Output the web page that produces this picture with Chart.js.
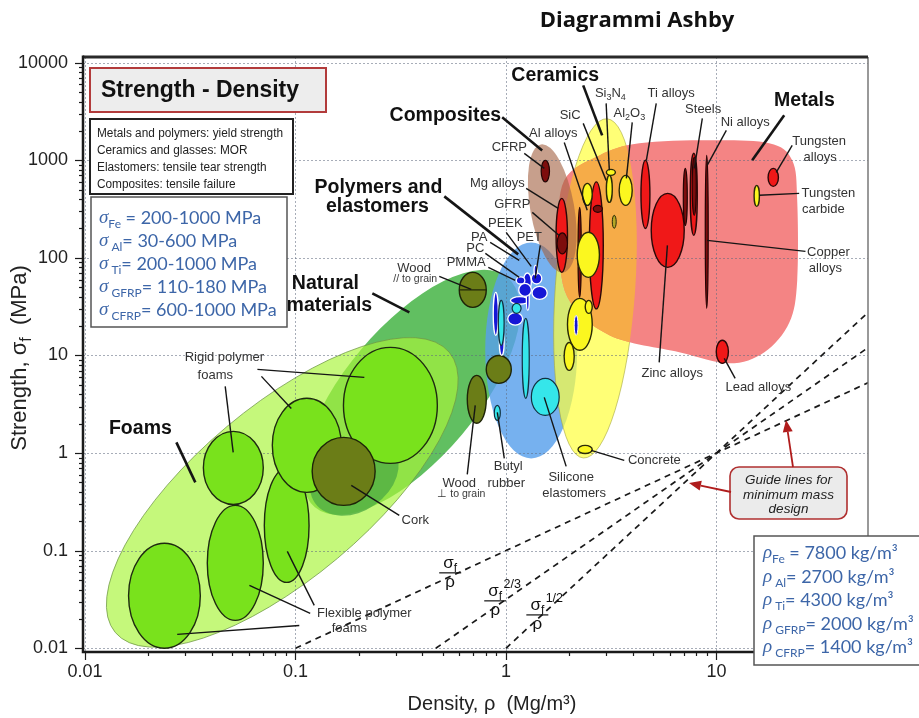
<!DOCTYPE html>
<html>
<head>
<meta charset="utf-8">
<title>Diagrammi Ashby</title>
<script src="https://cdn.jsdelivr.net/npm/chart.js@4.4.1/dist/chart.umd.min.js"></script>
<style>
  html, body { margin: 0; padding: 0; background: #ffffff; }
  canvas { display: block; }
</style>
</head>
<body>
<canvas id="ashby" width="919" height="718"></canvas>
<script>
const SANS = "'Liberation Sans', Arial, Helvetica, sans-serif";
const SOFT = "Lato, 'Open Sans', 'Liberation Sans', sans-serif";
const SERIF = "'Liberation Serif', 'DejaVu Serif', serif";

// ---------- axes ----------
const X_TICKS = [0.01, 0.1, 1, 10];
const X_TICK_TEXT = ['0.01', '0.1', '1', '10'];
const Y_TICKS = [0.01, 0.1, 1, 10, 100, 1000, 10000];
const Y_TICK_TEXT = ['0.01', '0.1', '1', '10', '100', '1000', '10000'];
const X_RANGE = [0.00978, 52.5];
const Y_RANGE = [0.00916, 11430];

// ---------- material property ranges: density [lo, hi] (Mg/m3), strength [lo, hi] (MPa) ----------
// foams (flexible x3, rigid x3)
const foamDensity  = [[0.0161, 0.0353], [0.0381, 0.0703], [0.0711, 0.116], [0.0365, 0.0703], [0.0776, 0.165], [0.169, 0.472]];
const foamStrength = [[0.0100, 0.119], [0.0193, 0.291], [0.0473, 0.697], [0.298, 1.67], [0.396, 3.64], [0.784, 12.1]];

// natural materials: cork, wood // grain, wood ⊥ grain, leather
const naturalDensity  = [[0.120, 0.239], [0.600, 0.806], [0.655, 0.806], [0.806, 1.06]];
const naturalStrength = [[0.291, 1.45], [31.1, 71.0], [2.02, 6.25], [5.18, 10.0]];

// polymers: PE, PP, PET, PEEK, PMMA, PA, PC ...
const polymerDensity  = [[0.87, 0.92], [0.93, 0.98], [1.33, 1.57], [1.21, 1.32], [1.05, 1.29], [1.12, 1.23], [1.02, 1.20], [1.25, 1.29], [1.32, 1.48], [1.36, 1.41], [1.15, 1.32]];
const polymerStrength = [[16.1, 44.3], [10.0, 18.1], [37.5, 51.0], [46.5, 70.0], [33.5, 40.0], [54.0, 64.0], [20.5, 27.5], [29.0, 48.7], [54.0, 70.0], [66.2, 83.8], [40.3, 54.8]];

// elastomers: butyl rubber, silicone, others
const elastomerDensity  = [[0.88, 0.94], [1.32, 1.79], [1.195, 1.29], [0.92, 0.98], [1.07, 1.18]];
const elastomerStrength = [[2.16, 3.08], [2.43, 5.83], [3.64, 24.0], [12.7, 36.7], [27.0, 34.2]];

// alloys: Mg, Al, Ti, Zinc, steels, tungsten, lead
const alloyDensity  = [[1.73, 1.96], [2.49, 2.90], [4.38, 4.83], [4.90, 7.03], [7.51, 8.11], [17.6, 19.7], [9.98, 11.4]];
const alloyStrength = [[71, 407], [30, 600], [200, 1000], [80, 458], [170, 1180], [540, 826], [8.3, 14.3]];

// composites and high-strength grades: CFRP, GFRP, Al (high), steel, steel (high), Ni/Cu, zirconia
const darkDensity  = [[1.47, 1.61], [1.75, 1.96], [2.60, 2.87], [6.96, 7.27], [7.67, 8.02], [8.85, 9.14], [2.20, 2.28]];
const darkStrength = [[600, 1000], [110, 180], [293, 345], [215, 826], [273, 1071], [30.4, 1122], [39.4, 329]];

// technical ceramics, concrete, tungsten carbide
const ceramicDensity  = [[2.18, 2.78], [2.31, 2.57], [3.00, 3.20], [3.00, 3.31], [3.45, 3.98], [1.96, 2.57], [2.38, 2.57], [1.89, 2.11], [2.20, 2.57], [15.1, 16.0]];
const ceramicStrength = [[63.1, 183], [345, 580], [370, 700], [700, 807], [345, 700], [11.3, 38.5], [27.0, 36.7], [7.04, 13.6], [0.99, 1.20], [337, 553]];

const boronDensity  = [[3.20, 3.34]];
const boronStrength = [[201, 273]];
const glassDensity  = [[2.11, 2.20]];
const glassStrength = [[16.1, 25.8]];

// class envelopes: natural, foams, cork region, polymers+elastomers, ceramics, composites
const envelopeDensity  = [[0.0688, 1.83], [0.00797, 0.9395], [0.1125, 0.3216], [0.797, 2.18], [1.715, 4.11], [1.305, 2.11]];
const envelopeStrength = [[0.883, 19.9], [0.0520, 3.01], [0.2527, 1.382], [0.882, 144], [0.882, 2688], [69.3, 1489]];
const envelopeTilt     = [-50, -40, -35, 0, 4, -10];

// metals envelope outline
const metalEnvelopeDensity  = [1.89, 2.78, 4.30, 9.24, 17.8, 22.9, 24.2, 24.2, 22.2, 16.9, 11.5, 6.66, 3.10, 1.96, 1.79];
const metalEnvelopeStrength = [622, 1122, 1490, 1599, 1490, 998, 388, 58.8, 21.8, 10.8, 8.3, 10.8, 16.1, 39.4, 170];

// minimum-mass guide lines, all through (10, 1): sigma/rho, sigma^(2/3)/rho, sigma^(1/2)/rho
const guideLinear    = [[0.1, 0.01], [100, 10]];
const guideTwoThirds = [[0.464, 0.01], [100, 31.6]];
const guideHalf      = [[1, 0.01], [100, 100]];

// ---------- annotation text ----------
const CRITERIA = [
  'Metals and polymers: yield strength',
  'Ceramics and glasses: MOR',
  'Elastomers: tensile tear strength',
  'Composites: tensile failure'
];
const STRENGTH_NOTES = [['Fe', ' = 200-1000 MPa'], [' Al', '= 30-600 MPa'], [' Ti', '= 200-1000 MPa'], [' GFRP', '= 110-180 MPa'], [' CFRP', '= 600-1000 MPa']];
const DENSITY_NOTES  = [['Fe', ' = 7800 kg/m³'], [' Al', '= 2700 kg/m³'], [' Ti', '= 4300 kg/m³'], [' GFRP', '= 2000 kg/m³'], [' CFRP', '= 1400 kg/m³']];

// label anchors in decades: [text, log10(density), log10(strength), kind]
const LABELS = [
  ['Foams', -1.737, 0.253, 'group'],
  ['Natural', -0.858, 1.739, 'group'],
  ['materials', -0.839, 1.513, 'group'],
  ['Polymers and', -0.606, 2.722, 'group'],
  ['elastomers', -0.611, 2.528, 'group'],
  ['Composites', -0.288, 3.460, 'group'],
  ['Ceramics', 0.234, 3.870, 'group'],
  ['Metals', 1.418, 3.614, 'group'],
  ['Rigid polymer', -1.338, 0.981, 'small'],
  ['foams', -1.381, 0.796, 'small'],
  ['Flexible polymer', -0.673, -1.643, 'small'],
  ['foams', -0.744, -1.797, 'small'],
  ['Cork', -0.431, -0.690, 'small'],
  ['Wood', -0.436, 1.892, 'small'],
  ['// to grain', -0.431, 1.779, 'tiny'],
  ['Wood', -0.222, -0.310, 'small'],
  ['⊥ to grain', -0.212, -0.423, 'tiny'],
  ['Butyl', 0.011, -0.136, 'small'],
  ['rubber', 0.001, -0.310, 'small'],
  ['Silicone', 0.310, -0.250, 'small'],
  ['elastomers', 0.324, -0.413, 'small'],
  ['Concrete', 0.705, -0.075, 'small'],
  ['Lead alloys', 1.199, 0.673, 'small'],
  ['Zinc alloys', 0.790, 0.817, 'small'],
  ['Copper', 1.532, 2.056, 'small'],
  ['alloys', 1.518, 1.892, 'small'],
  ['Tungsten', 1.532, 2.661, 'small'],
  ['carbide', 1.508, 2.497, 'small'],
  ['Tungsten', 1.488, 3.194, 'small'],
  ['alloys', 1.493, 3.030, 'small'],
  ['Ni alloys', 1.137, 3.388, 'small'],
  ['Steels', 0.937, 3.521, 'small'],
  ['Ti alloys', 0.785, 3.685, 'small'],
  ['Al_2O_3', 0.586, 3.481, 'small'],
  ['Si_3N_4', 0.496, 3.685, 'small'],
  ['SiC', 0.305, 3.460, 'small'],
  ['Al alloys', 0.225, 3.276, 'small'],
  ['CFRP', 0.016, 3.132, 'small'],
  ['Mg alloys', -0.041, 2.763, 'small'],
  ['GFRP', 0.030, 2.548, 'small'],
  ['PEEK', -0.003, 2.353, 'small'],
  ['PA', -0.127, 2.210, 'small'],
  ['PC', -0.146, 2.097, 'small'],
  ['PMMA', -0.189, 1.954, 'small'],
  ['PET', 0.111, 2.210, 'small']
];

// leader lines in decades: [from lr, from ls, to lr, to ls, heavy?]
const LEADERS = [
  [-1.566, 0.110, -1.476, -0.300, 1], [-0.635, 1.636, -0.459, 1.442, 1], [-0.293, 2.630, 0.058, 2.036, 1],
  [-0.018, 3.440, 0.172, 3.101, 1], [0.367, 3.767, 0.457, 3.255, 1], [1.322, 3.460, 1.170, 2.999, 1],
  [-1.181, 0.858, -0.673, 0.776, 0], [-1.162, 0.786, -1.020, 0.456, 0], [-1.334, 0.683, -1.296, 0.007, 0],
  [-0.911, -1.561, -1.039, -1.007, 0], [-0.930, -1.643, -1.219, -1.356, 0], [-0.982, -1.766, -1.562, -1.858, 0],
  [-0.507, -0.638, -0.735, -0.331, 0], [-0.317, 1.810, -0.165, 1.677, 0], [-0.184, -0.218, -0.146, 0.489, 0],
  [-0.008, -0.054, -0.041, 0.417, 0], [0.286, -0.136, 0.182, 0.571, 0], [0.562, -0.075, 0.405, 0.028, 0],
  [1.089, 0.765, 1.037, 0.970, 0], [0.728, 0.929, 0.767, 2.128, 0], [1.423, 2.067, 0.956, 2.179, 0],
  [1.393, 2.661, 1.203, 2.641, 0], [1.360, 3.153, 1.284, 2.876, 0], [1.047, 3.306, 0.956, 2.948, 0],
  [0.933, 3.429, 0.895, 2.917, 0], [0.714, 3.583, 0.667, 2.999, 0], [0.600, 3.388, 0.572, 2.814, 0],
  [0.476, 3.583, 0.491, 2.897, 0], [0.367, 3.378, 0.476, 2.794, 0], [0.277, 3.183, 0.386, 2.487, 0],
  [0.087, 3.071, 0.182, 2.917, 0], [0.096, 2.712, 0.248, 2.507, 0], [0.125, 2.466, 0.253, 2.230, 0],
  [0.001, 2.261, 0.120, 1.913, 0], [-0.075, 2.159, 0.063, 1.974, 0], [-0.098, 2.046, 0.063, 1.800, 0],
  [-0.084, 1.902, 0.044, 1.769, 0], [0.163, 2.128, 0.139, 1.790, 0]
];

// guide-line indices: bar centre in decades, exponent
const FRACTIONS = [[-0.265, -1.222, ''], [-0.051, -1.509, '2/3'], [0.149, -1.653, '1/2']];

// ---------- styles ----------
const ENVELOPE_STYLE = [
  { fill: 'rgba(84,186,84,0.92)' },
  { fill: 'rgba(170,245,60,0.68)', stroke: 'rgba(110,150,70,0.75)' },
  { fill: 'rgba(80,172,68,0.78)' },
  { fill: 'rgba(88,160,236,0.82)' },
  { fill: 'rgba(255,255,60,0.7)', stroke: 'rgba(165,165,60,0.6)' },
  { fill: 'rgba(165,100,70,0.62)' }
];
const METAL_FILL = '#f48484';
const METAL_CERAMIC_FILL = '#f6ac48';

// ---------- helpers ----------
function toPx(chart, rho, sig) {
  return [chart.scales.x.getPixelForValue(rho), chart.scales.y.getPixelForValue(sig)];
}
function decPx(chart, lr, ls) {
  return toPx(chart, Math.pow(10, lr), Math.pow(10, ls));
}
function ellipsePath(ctx, chart, rho, sig, tilt) {
  const [x0, y0] = toPx(chart, rho[0], sig[0]);
  const [x1, y1] = toPx(chart, rho[1], sig[1]);
  ctx.beginPath();
  ctx.ellipse((x0 + x1) / 2, (y0 + y1) / 2, Math.abs(x1 - x0) / 2, Math.abs(y1 - y0) / 2,
    (tilt || 0) * Math.PI / 180, 0, Math.PI * 2);
  ctx.closePath();
}
function smoothClosedPath(ctx, pts) {
  const n = pts.length;
  ctx.beginPath();
  ctx.moveTo(pts[0][0], pts[0][1]);
  for (let i = 0; i < n; i++) {
    const p0 = pts[(i - 1 + n) % n], p1 = pts[i], p2 = pts[(i + 1) % n], p3 = pts[(i + 2) % n];
    ctx.bezierCurveTo(
      p1[0] + (p2[0] - p0[0]) / 6, p1[1] + (p2[1] - p0[1]) / 6,
      p2[0] - (p3[0] - p1[0]) / 6, p2[1] - (p3[1] - p1[1]) / 6,
      p2[0], p2[1]);
  }
  ctx.closePath();
}
function metalOutline(chart) {
  return metalEnvelopeDensity.map((d, i) => toPx(chart, d, metalEnvelopeStrength[i]));
}
function drawBubbles(ctx, chart, dens, str, fill, stroke, lw) {
  for (let i = 0; i < dens.length; i++) {
    ellipsePath(ctx, chart, dens[i], str[i], 0);
    ctx.fillStyle = fill;
    ctx.fill();
    ctx.lineWidth = lw;
    ctx.strokeStyle = stroke;
    ctx.stroke();
  }
}
// '_x' marks a one-character subscript
function parseRich(s) {
  const parts = [];
  let buf = '';
  for (let i = 0; i < s.length; i++) {
    if (s[i] === '_' && i + 1 < s.length) {
      if (buf) { parts.push([buf, 0]); buf = ''; }
      parts.push([s[i + 1], 1]);
      i++;
    } else buf += s[i];
  }
  if (buf) parts.push([buf, 0]);
  return parts;
}
function drawRich(ctx, s, x, y, size, font, align, color) {
  const parts = parseRich(s);
  const f = sub => `${font.style || ''} ${font.weight || ''} ${sub ? Math.round(size * 0.72) : size}px ${font.family}`;
  let w = 0;
  for (const [t, sub] of parts) { ctx.font = f(sub); w += ctx.measureText(t).width; }
  let cx = align === 'center' ? x - w / 2 : align === 'right' ? x - w : x;
  ctx.textAlign = 'left';
  ctx.textBaseline = 'middle';
  ctx.fillStyle = color;
  for (const [t, sub] of parts) {
    ctx.font = f(sub);
    ctx.fillText(t, cx, y + (sub ? size * 0.3 : 0));
    cx += ctx.measureText(t).width;
  }
}
function arrow(ctx, x1, y1, x2, y2, color) {
  const ang = Math.atan2(y2 - y1, x2 - x1);
  const L = 12, W = 5;
  const bx = x2 - L * Math.cos(ang), by = y2 - L * Math.sin(ang);
  ctx.strokeStyle = color; ctx.fillStyle = color; ctx.lineWidth = 1.8;
  ctx.beginPath(); ctx.moveTo(x1, y1); ctx.lineTo(bx, by); ctx.stroke();
  ctx.beginPath();
  ctx.moveTo(x2, y2);
  ctx.lineTo(bx + W * Math.sin(ang), by - W * Math.cos(ang));
  ctx.lineTo(bx - W * Math.sin(ang), by + W * Math.cos(ang));
  ctx.closePath(); ctx.fill();
}
function noteLine(ctx, x, y, symbol, sub, rest, color) {
  ctx.textAlign = 'left';
  ctx.textBaseline = 'middle';
  ctx.fillStyle = color;
  ctx.font = `italic 19px ${SERIF}`;
  ctx.fillText(symbol, x, y);
  let cx = x + ctx.measureText(symbol).width;
  ctx.font = `12px ${SOFT}`;
  ctx.fillText(sub, cx, y + 6);
  cx += ctx.measureText(sub).width;
  ctx.font = `18px ${SOFT}`;
  ctx.fillText(rest, cx, y);
}

// ---------- drawing plugin ----------
const ashbyPlugin = {
  id: 'ashby',
  beforeDatasetsDraw(chart) {
    const ctx = chart.ctx, a = chart.chartArea;
    ctx.save();
    ctx.beginPath();
    ctx.rect(a.left, a.top, a.right - a.left, a.bottom - a.top);
    ctx.clip();

    // class envelopes
    const env = i => {
      ellipsePath(ctx, chart, envelopeDensity[i], envelopeStrength[i], envelopeTilt[i]);
      ctx.fillStyle = ENVELOPE_STYLE[i].fill;
      ctx.fill();
      if (ENVELOPE_STYLE[i].stroke) {
        ctx.lineWidth = 1; ctx.strokeStyle = ENVELOPE_STYLE[i].stroke; ctx.stroke();
      }
    };
    env(0); env(1); env(2); env(3); env(4);

    const metals = metalOutline(chart);
    smoothClosedPath(ctx, metals);
    ctx.fillStyle = METAL_FILL;
    ctx.fill();
    ctx.save();
    smoothClosedPath(ctx, metals);
    ctx.clip();
    ellipsePath(ctx, chart, envelopeDensity[4], envelopeStrength[4], envelopeTilt[4]);
    ctx.fillStyle = METAL_CERAMIC_FILL;
    ctx.fill();
    ctx.restore();
    env(5);

    // decade grid
    ctx.save();
    ctx.setLineDash([2, 2]);
    ctx.lineWidth = 1;
    ctx.strokeStyle = 'rgba(95,105,125,0.55)';
    for (const v of X_TICKS) {
      const x = Math.round(chart.scales.x.getPixelForValue(v)) + 0.5;
      ctx.beginPath(); ctx.moveTo(x, a.top); ctx.lineTo(x, a.bottom); ctx.stroke();
    }
    for (const v of Y_TICKS) {
      const y = Math.round(chart.scales.y.getPixelForValue(v)) + 0.5;
      ctx.beginPath(); ctx.moveTo(a.left, y); ctx.lineTo(a.right, y); ctx.stroke();
    }
    ctx.restore();

    // material bubbles
    drawBubbles(ctx, chart, foamDensity, foamStrength, '#79e21c', '#1e2a10', 1.4);
    drawBubbles(ctx, chart, naturalDensity, naturalStrength, '#6b7d17', '#1e2408', 1.4);
    // grain split of the parallel-to-grain wood
    {
      const [x0, y0] = toPx(chart, naturalDensity[1][0], naturalStrength[1][0]);
      const [x1, y1] = toPx(chart, naturalDensity[1][1], naturalStrength[1][1]);
      ctx.beginPath(); ctx.moveTo(x0, (y0 + y1) / 2); ctx.lineTo(x1, (y0 + y1) / 2);
      ctx.lineWidth = 1.2; ctx.strokeStyle = '#1e2408'; ctx.stroke();
    }
    drawBubbles(ctx, chart, polymerDensity, polymerStrength, '#1616d6', '#ffffff', 1.3);
    drawBubbles(ctx, chart, elastomerDensity, elastomerStrength, '#35e6ea', '#123040', 1.2);
    drawBubbles(ctx, chart, alloyDensity, alloyStrength, '#f01818', '#2a0808', 1.4);
    drawBubbles(ctx, chart, darkDensity, darkStrength, '#7d0d0d', '#220404', 1.2);
    drawBubbles(ctx, chart, ceramicDensity, ceramicStrength, '#fbf71f', '#2a2a08', 1.4);
    drawBubbles(ctx, chart, boronDensity, boronStrength, '#b5a726', '#2a2a08', 1);
    drawBubbles(ctx, chart, glassDensity, glassStrength, '#1a1ad0', '#ffffff', 1);
    ctx.restore();
  },
  afterDatasetsDraw(chart) {
    const ctx = chart.ctx;
    ctx.save();
    ctx.lineCap = 'butt';
    for (const [a1, b1, a2, b2, heavy] of LEADERS) {
      const [x1, y1] = decPx(chart, a1, b1);
      const [x2, y2] = decPx(chart, a2, b2);
      ctx.beginPath(); ctx.moveTo(x1, y1); ctx.lineTo(x2, y2);
      ctx.lineWidth = heavy ? 2.6 : 1.4;
      ctx.strokeStyle = '#151515';
      ctx.stroke();
    }
    for (const [t, lr, ls, kind] of LABELS) {
      const [x, y] = decPx(chart, lr, ls);
      if (kind === 'group') drawRich(ctx, t, x, y, 19.5, { weight: 'bold', family: SANS }, 'center', '#111111');
      else if (kind === 'tiny') drawRich(ctx, t, x, y, 10.5, { family: SANS }, 'center', '#3a3a3a');
      else drawRich(ctx, t, x, y, 13, { family: SANS }, 'center', '#333333');
    }
    // guide-line indices
    for (const [lr, ls, ex] of FRACTIONS) {
      const [x, y] = decPx(chart, lr, ls);
      drawRich(ctx, 'σ_f', x, y - 9, 17, { family: SANS }, 'center', '#111111');
      ctx.beginPath(); ctx.moveTo(x - 11, y + 0.5); ctx.lineTo(x + 11, y + 0.5);
      ctx.lineWidth = 1.2; ctx.strokeStyle = '#111111'; ctx.stroke();
      drawRich(ctx, 'ρ', x, y + 10, 17, { family: SANS }, 'center', '#111111');
      if (ex) drawRich(ctx, ex, x + 17, y - 16, 12.5, { family: SANS }, 'center', '#111111');
    }
    ctx.restore();
  },
  afterDraw(chart) {
    const ctx = chart.ctx, a = chart.chartArea;
    const xs = chart.scales.x, ys = chart.scales.y;
    ctx.save();

    // frame
    ctx.strokeStyle = '#777777'; ctx.lineWidth = 1.5;
    ctx.beginPath(); ctx.moveTo(a.right, a.top); ctx.lineTo(a.right, a.bottom); ctx.stroke();
    ctx.strokeStyle = '#2a2a2a'; ctx.lineWidth = 3;
    ctx.beginPath(); ctx.moveTo(a.left, a.top); ctx.lineTo(a.right, a.top); ctx.stroke();
    ctx.strokeStyle = '#1a1a1a'; ctx.lineWidth = 2.5;
    ctx.beginPath(); ctx.moveTo(a.left, a.top - 1.5); ctx.lineTo(a.left, a.bottom); ctx.lineTo(a.right, a.bottom); ctx.stroke();

    // log ticks
    ctx.lineWidth = 1.2; ctx.strokeStyle = '#1a1a1a';
    for (let e = -3; e <= 4; e++) {
      for (let m = 1; m <= 9; m++) {
        const v = m * Math.pow(10, e);
        const len = m === 1 ? 8 : 4;
        if (v >= X_RANGE[0] && v <= X_RANGE[1]) {
          const x = Math.round(xs.getPixelForValue(v)) + 0.5;
          ctx.beginPath(); ctx.moveTo(x, a.bottom); ctx.lineTo(x, a.bottom + len); ctx.stroke();
        }
        if (v >= Y_RANGE[0] && v <= Y_RANGE[1]) {
          const y = Math.round(ys.getPixelForValue(v)) + 0.5;
          ctx.beginPath(); ctx.moveTo(a.left, y); ctx.lineTo(a.left - len, y); ctx.stroke();
        }
      }
    }

    // axis titles
    drawRich(ctx, 'Density, ρ  (Mg/m³)', 492, 704, 20, { family: SANS }, 'center', '#222222');
    ctx.save();
    ctx.translate(20, 358);
    ctx.rotate(-Math.PI / 2);
    drawRich(ctx, 'Strength, σ_f  (MPa)', 0, 0, 22, { family: SANS }, 'center', '#222222');
    ctx.restore();

    // chart heading box
    ctx.fillStyle = '#ededed'; ctx.fillRect(90, 68, 236, 44);
    ctx.strokeStyle = '#b23b3b'; ctx.lineWidth = 2; ctx.strokeRect(90, 68, 236, 44);
    ctx.fillStyle = '#111111'; ctx.font = `bold 23px ${SANS}`;
    ctx.textAlign = 'left'; ctx.textBaseline = 'middle';
    ctx.fillText('Strength - Density', 101, 91);

    // failure criteria box (text set slightly condensed)
    ctx.fillStyle = '#ffffff'; ctx.fillRect(90, 119, 203, 75);
    ctx.strokeStyle = '#222222'; ctx.lineWidth = 2; ctx.strokeRect(90, 119, 203, 75);
    ctx.fillStyle = '#222222'; ctx.font = `12.5px ${SANS}`;
    ctx.textAlign = 'left'; ctx.textBaseline = 'middle';
    const sx = Math.min(1, 186 / ctx.measureText(CRITERIA[0]).width);
    ctx.save();
    ctx.translate(97, 0);
    ctx.scale(sx, 1);
    CRITERIA.forEach((t, i) => ctx.fillText(t, 0, 134 + i * 17));
    ctx.restore();

    // strength notes
    ctx.fillStyle = '#ffffff'; ctx.fillRect(91, 197, 196, 130);
    ctx.strokeStyle = '#555555'; ctx.lineWidth = 1.5; ctx.strokeRect(91, 197, 196, 130);
    const noteY = [218, 241, 264, 287, 310];
    STRENGTH_NOTES.forEach((n, i) => noteLine(ctx, 99, noteY[i], 'σ', n[0], n[1], '#3d66a8'));

    // density notes
    ctx.fillStyle = '#ffffff'; ctx.fillRect(754, 536, 170, 129);
    ctx.strokeStyle = '#555555'; ctx.lineWidth = 1.5; ctx.strokeRect(754, 536, 170, 129);
    const rhoY = [553, 577, 600, 624, 647];
    DENSITY_NOTES.forEach((n, i) => noteLine(ctx, 763, rhoY[i], 'ρ', n[0], n[1], '#3d66a8'));

    // guide-line callout
    ctx.beginPath(); ctx.roundRect(730, 467, 117, 52, 9);
    ctx.fillStyle = '#ebebeb'; ctx.fill();
    ctx.strokeStyle = '#b03030'; ctx.lineWidth = 1.6; ctx.stroke();
    ctx.fillStyle = '#222222'; ctx.font = `italic 13.5px ${SANS}`;
    ctx.textAlign = 'center'; ctx.textBaseline = 'middle';
    ctx.fillText('Guide lines for', 788.5, 480);
    ctx.fillText('minimum mass', 788.5, 495);
    ctx.fillText('design', 788.5, 509);
    arrow(ctx, 793, 467, 786, 420, '#b01c1c');
    arrow(ctx, 731, 492, 689, 483, '#b01c1c');

    // page heading
    ctx.fillStyle = '#111111'; ctx.font = `bold 22px 'Open Sans', ${SANS}`;
    ctx.textAlign = 'center'; ctx.textBaseline = 'middle';
    ctx.fillText('Diagrammi Ashby', 637, 21);
    ctx.restore();
  }
};

// ---------- chart ----------
const matchLabel = (v, ticks, text) => {
  const i = ticks.findIndex(t => Math.abs(Math.log10(t) - Math.log10(v)) < 1e-6);
  return i >= 0 ? text[i] : '';
};
const asPoints = arr => arr.map(p => ({ x: p[0], y: p[1] }));
const guideStyle = { borderColor: '#1a1a1a', borderWidth: 1.7, borderDash: [6, 5], pointRadius: 0, fill: false, tension: 0 };

Chart.defaults.font.family = SANS;
new Chart(document.getElementById('ashby'), {
  type: 'line',
  data: {
    datasets: [
      Object.assign({ label: 'σf/ρ', data: asPoints(guideLinear) }, guideStyle),
      Object.assign({ label: 'σf^2/3/ρ', data: asPoints(guideTwoThirds) }, guideStyle),
      Object.assign({ label: 'σf^1/2/ρ', data: asPoints(guideHalf) }, guideStyle)
    ]
  },
  options: {
    responsive: false,
    maintainAspectRatio: false,
    animation: false,
    layout: { padding: { top: 57, right: 51, left: 0, bottom: 0 } },
    plugins: { legend: { display: false }, tooltip: { enabled: false } },
    scales: {
      x: {
        type: 'logarithmic', min: X_RANGE[0], max: X_RANGE[1],
        afterFit: s => { s.height = 66; },
        afterBuildTicks: s => { s.ticks = X_TICKS.map(v => ({ value: v })); },
        grid: { display: false, drawTicks: false },
        border: { display: false },
        ticks: { padding: 9, autoSkip: false, maxRotation: 0, color: '#222222', font: { size: 18, family: SANS },
          callback: v => matchLabel(v, X_TICKS, X_TICK_TEXT) }
      },
      y: {
        type: 'logarithmic', min: Y_RANGE[0], max: Y_RANGE[1],
        afterFit: s => { s.width = 83; },
        afterBuildTicks: s => { s.ticks = Y_TICKS.map(v => ({ value: v })); },
        grid: { display: false, drawTicks: false },
        border: { display: false },
        ticks: { padding: 15, autoSkip: false, color: '#222222', font: { size: 18, family: SANS },
          callback: v => matchLabel(v, Y_TICKS, Y_TICK_TEXT) }
      }
    }
  },
  plugins: [ashbyPlugin]
});
</script>
</body>
</html>
